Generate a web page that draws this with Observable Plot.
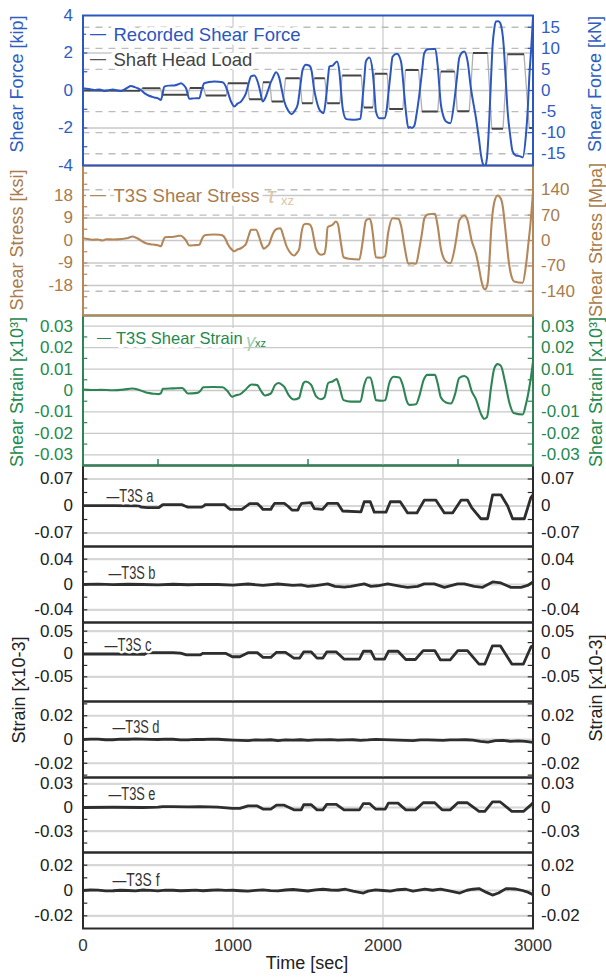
<!DOCTYPE html>
<html>
<head>
<meta charset="utf-8">
<script src="https://cdn.jsdelivr.net/npm/d3@7"></script>
<script src="https://cdn.jsdelivr.net/npm/@observablehq/plot@0.6"></script>
<style>
  html, body { margin: 0; padding: 0; background: #fff; }
  #chart { position: relative; width: 606px; height: 977px; overflow: hidden; font-family: "Liberation Sans", Arial, sans-serif; }
  .yl { position: absolute; transform: translate(-50%, -50%) rotate(-90deg); white-space: nowrap; font-size: 18px; line-height: 1; }
  #xl { position: absolute; left: 307px; top: 963px; transform: translate(-50%, -50%); font-size: 18px; color: #222; white-space: nowrap; }
</style>
</head>
<body>
<div id="chart"></div>
<script>
// ---------------- DATA (time [sec], value) ----------------
const shearForceKip = [[0,0.12],[40,0.08],[76,0.03],[110,0.06],[142,-0.03],[170,0.02],[198,0.06],[230,0.0],[253,-0.02],[290,0.12],[320,0.24],[345,0.18],[364,0.12],[390,0.0],[409,-0.14],[440,-0.28],[476,-0.37],[500,-0.42],[520,-0.5],[530,-0.2],[542,0.21],[575,0.26],[609,0.27],[635,0.33],[653,0.39],[670,0.3],[687,0.12],[709,-0.44],[740,-0.42],[776,-0.41],[790,0.0],[809,0.39],[840,0.45],[876,0.48],[931,0.44],[950,0.25],[964,-0.05],[985,-0.55],[1009,-0.85],[1030,-0.7],[1053,-0.59],[1070,-0.4],[1087,-0.14],[1105,0.4],[1120,0.75],[1142,0.8],[1164,0.48],[1180,0.0],[1198,-0.59],[1215,-0.4],[1231,-0.05],[1250,0.4],[1265,0.66],[1287,0.98],[1309,0.66],[1325,0.05],[1342,-0.59],[1370,-1.1],[1391,-1.26],[1410,-1.1],[1431,-0.76],[1448,0.2],[1464,1.1],[1486,1.37],[1510,1.32],[1525,1.0],[1540,0.1],[1553,-0.41],[1575,-1.0],[1586,-1.12],[1604,-1.21],[1620,-0.41],[1635,0.8],[1642,1.28],[1664,1.33],[1693,1.55],[1709,1.01],[1720,0.0],[1731,-0.94],[1753,-1.51],[1780,-1.55],[1809,-1.56],[1849,-1.51],[1864,-0.41],[1875,0.6],[1886,1.55],[1909,1.76],[1931,1.01],[1942,0.0],[1953,-1.12],[1975,-1.48],[2009,-1.48],[2025,-1.0],[2035,-0.23],[2050,0.9],[2064,1.81],[2093,1.96],[2120,1.55],[2142,-0.23],[2155,-1.3],[2169,-2.0],[2180,-1.95],[2192,-2.0],[2209,-1.88],[2225,-1.2],[2242,-0.23],[2260,1.0],[2275,1.99],[2297,2.2],[2330,2.22],[2349,2.22],[2364,1.37],[2386,-0.76],[2400,-1.3],[2420,-1.65],[2449,-1.74],[2475,-0.59],[2492,0.6],[2508,1.72],[2530,2.05],[2542,2.08],[2564,1.55],[2586,0.12],[2620,-1.48],[2640,-2.6],[2653,-3.43],[2668,-3.95],[2680,-4.05],[2693,-3.6],[2708,-1.65],[2720,0.6],[2731,2.44],[2742,3.3],[2753,3.68],[2770,3.7],[2782,3.59],[2804,2.44],[2818,0.6],[2831,-1.12],[2848,-2.4],[2864,-3.25],[2886,-3.47],[2910,-3.5],[2931,-3.57],[2953,-2.36],[2965,-1.0],[2975,0.66],[2990,2.5],[3000,3.95]];

const shaftHeadLoadKip = [[0,0.0],[380,-0.02],[395,0.12],[515,0.12],[528,-0.23],[700,-0.23],[712,0.13],[805,0.13],[818,-0.27],[955,-0.27],[966,0.39],[1098,0.39],[1108,-0.46],[1190,-0.46],[1200,0.44],[1245,0.44],[1258,-0.59],[1335,-0.59],[1350,0.66],[1445,0.66],[1460,-0.68],[1531,-0.68],[1542,0.66],[1612,0.66],[1628,-0.68],[1712,-0.68],[1728,0.8],[1855,0.8],[1872,-0.91],[1933,-0.91],[1945,0.89],[2028,0.89],[2042,-0.98],[2133,-0.98],[2150,1.1],[2237,1.1],[2260,-1.12],[2365,-1.12],[2385,1.01],[2478,1.01],[2495,-1.1],[2575,-1.1],[2600,2.0],[2697,2.0],[2725,-2.04],[2800,-2.04],[2830,1.94],[2940,1.94],[2975,-2.0],[3000,-2.0]];

const shearStressKsi = [[0,0.9],[30,0.6],[60,0.3],[100,0.4],[130,0.0],[155,0.5],[200,0.4],[260,0.6],[300,1.0],[331,1.6],[350,1.2],[376,0.4],[400,-0.5],[420,-1.1],[450,-1.5],[476,-1.7],[500,-1.9],[520,-2.3],[535,0.0],[547,1.3],[580,1.4],[609,1.5],[640,1.9],[653,1.9],[670,1.2],[687,0.0],[709,-2.0],[740,-1.9],[776,-1.7],[792,0.5],[809,2.0],[840,2.3],[876,2.4],[910,2.3],[931,2.0],[950,0.6],[964,-1.3],[985,-3.2],[1009,-4.3],[1030,-3.6],[1053,-3.1],[1070,-2.4],[1087,-1.3],[1105,2.0],[1120,4.3],[1153,4.3],[1175,1.3],[1190,-1.5],[1205,-3.3],[1225,-2.5],[1242,-1.3],[1258,1.5],[1271,3.3],[1290,4.6],[1316,4.9],[1338,1.3],[1355,-2.0],[1376,-4.4],[1395,-5.7],[1409,-6.0],[1425,-5.0],[1442,-3.3],[1455,2.5],[1471,6.3],[1490,6.7],[1509,6.5],[1525,5.0],[1540,0.5],[1553,-3.3],[1586,-5.7],[1609,-5.3],[1620,-2.0],[1631,5.3],[1664,6.3],[1686,7.6],[1700,6.5],[1709,3.3],[1722,-2.0],[1737,-6.7],[1775,-7.3],[1842,-7.6],[1864,-0.7],[1886,8.0],[1909,8.7],[1922,7.0],[1931,3.3],[1953,-6.7],[1986,-6.9],[2013,-6.3],[2035,3.3],[2064,8.9],[2102,8.7],[2120,6.0],[2146,-3.3],[2169,-9.3],[2190,-9.1],[2220,-9.3],[2242,-3.3],[2260,3.0],[2275,8.7],[2297,10.4],[2346,10.7],[2364,6.0],[2386,-3.3],[2420,-8.4],[2449,-9.1],[2475,-4.0],[2492,2.0],[2508,8.0],[2542,10.0],[2564,8.0],[2591,0.0],[2620,-5.3],[2640,-11.0],[2653,-15.3],[2670,-19.0],[2680,-19.6],[2697,-17.3],[2710,-8.0],[2720,3.3],[2742,15.3],[2764,18.0],[2786,16.7],[2800,13.0],[2813,6.0],[2842,-10.0],[2860,-15.0],[2875,-16.4],[2931,-16.9],[2953,-10.0],[2968,-2.0],[2982,6.0],[3000,19.3]];

const shearStrain = [[0,0.0004],[60,0.0002],[120,0.0003],[200,0.0001],[270,0.0004],[327,0.0009],[365,0.0005],[400,-0.0004],[429,-0.0011],[470,-0.0015],[506,-0.0017],[520,-0.0012],[532,0.0008],[600,0.0010],[661,0.0012],[680,0.0],[699,-0.0014],[763,-0.0011],[785,0.0],[802,0.0015],[870,0.0016],[931,0.0015],[960,0.0],[995,-0.0029],[1020,-0.0022],[1046,-0.0018],[1085,0.0005],[1124,0.0028],[1162,0.0025],[1185,0.0],[1213,-0.0023],[1252,-0.0014],[1280,0.0025],[1303,0.0035],[1320,0.0030],[1342,0.0017],[1370,-0.0020],[1406,-0.0042],[1440,-0.0035],[1458,0.0010],[1470,0.0035],[1486,0.0042],[1520,0.0027],[1553,-0.0026],[1586,-0.0041],[1609,-0.0033],[1635,0.0035],[1664,0.0042],[1691,0.0053],[1709,0.0020],[1737,-0.0045],[1786,-0.0052],[1849,-0.0052],[1875,0.0027],[1897,0.0061],[1915,0.0061],[1937,0.0005],[1953,-0.0045],[1997,-0.0048],[2015,-0.0045],[2042,0.0035],[2071,0.0064],[2109,0.0061],[2131,0.0027],[2160,-0.0052],[2175,-0.0067],[2220,-0.0064],[2242,-0.0026],[2271,0.0050],[2297,0.0073],[2346,0.0073],[2364,0.0035],[2386,-0.0033],[2420,-0.0056],[2453,-0.0061],[2480,-0.0018],[2508,0.0058],[2542,0.0068],[2564,0.0058],[2591,-0.0003],[2620,-0.0041],[2653,-0.0109],[2675,-0.0132],[2693,-0.0124],[2720,0.0012],[2742,0.0103],[2764,0.0123],[2786,0.0115],[2813,0.0042],[2842,-0.0056],[2871,-0.0105],[2931,-0.0112],[2953,-0.0064],[2982,0.0042],[3000,0.0135]];

const gaugeA = [[0,0.001],[200,0.0008],[370,0.0005],[390,-0.003],[429,-0.004],[506,-0.004],[520,0.0],[532,0.0035],[661,0.0035],[680,0.0],[699,-0.003],[789,-0.003],[805,0.0],[815,0.0035],[944,0.0035],[965,-0.004],[982,-0.009],[1059,-0.009],[1090,0.0],[1111,0.006],[1162,0.006],[1180,0.0],[1200,-0.009],[1252,-0.009],[1265,0.0],[1278,0.007],[1342,0.007],[1365,0.0],[1393,-0.0105],[1432,-0.0105],[1445,0.0],[1458,0.007],[1520,0.009],[1542,-0.007],[1597,-0.009],[1631,0.007],[1697,0.007],[1731,-0.013],[1853,-0.015],[1875,0.011],[1915,0.011],[1942,-0.016],[2020,-0.016],[2049,0.011],[2115,0.011],[2164,-0.018],[2226,-0.018],[2275,0.015],[2353,0.015],[2409,-0.018],[2464,-0.018],[2520,0.015],[2564,0.015],[2591,-0.004],[2620,-0.018],[2653,-0.033],[2697,-0.033],[2731,0.029],[2786,0.029],[2831,0.0],[2864,-0.033],[2942,-0.033],[2986,0.022],[3000,0.029]];

const gaugeB = [[0,0.0],[100,0.0005],[200,-0.0003],[300,0.0004],[400,0.0],[500,-0.0005],[600,0.0004],[700,-0.0004],[800,0.0003],[900,0.0],[1000,-0.001],[1100,0.0008],[1200,-0.0015],[1300,0.0008],[1400,-0.0015],[1453,-0.0005],[1500,-0.003],[1542,-0.002],[1631,0.001],[1680,-0.003],[1742,-0.004],[1786,-0.003],[1875,0.001],[1920,-0.003],[1964,-0.002],[2031,0.001],[2120,-0.003],[2164,-0.0045],[2231,-0.003],[2275,0.001],[2342,0.001],[2409,-0.0045],[2497,0.001],[2542,0.001],[2609,-0.003],[2664,-0.0045],[2731,0.004],[2786,0.0025],[2853,-0.0045],[2920,-0.0045],[2964,-0.0015],[3000,0.004]];

const gaugeC = [[0,0.0],[200,0.0],[410,-0.0005],[430,0.003],[600,0.003],[650,0.002],[690,-0.002],[780,-0.002],[800,0.0015],[950,0.0015],[995,-0.006],[1046,-0.006],[1100,0.003],[1162,0.003],[1200,-0.0075],[1252,-0.0075],[1290,0.0037],[1350,0.0037],[1406,-0.009],[1445,-0.009],[1471,0.0045],[1522,0.0045],[1560,-0.009],[1599,-0.009],[1625,0.0045],[1689,0.0045],[1740,-0.011],[1843,-0.011],[1869,0.006],[1920,0.006],[1946,-0.011],[2010,-0.011],[2036,0.006],[2100,0.006],[2152,-0.012],[2216,-0.012],[2268,0.0075],[2345,0.0075],[2383,-0.013],[2448,-0.013],[2499,0.0075],[2563,0.0075],[2640,-0.022],[2679,-0.022],[2730,0.018],[2782,0.018],[2859,-0.022],[2936,-0.022],[2987,0.016],[3000,0.018]];

const gaugeD = [[0,0.0],[50,0.0004],[100,0.0003],[150,-0.0002],[200,-0.0002],[250,0.0003],[300,0.0002],[350,0.0005],[400,0.0004],[450,0.0001],[500,0.0],[550,0.0004],[600,0.0002],[650,-0.0004],[700,-0.0003],[750,0.0001],[800,0.0],[850,0.0003],[900,0.0002],[950,-0.0002],[1000,-0.0005],[1050,-0.0008],[1100,-0.001],[1150,-0.0004],[1200,-0.0006],[1250,-0.0002],[1300,-0.001],[1350,-0.0003],[1400,-0.0005],[1450,-0.0002],[1500,-0.0008],[1550,-0.0003],[1600,-0.0004],[1650,-0.0001],[1700,-0.0006],[1750,-0.0003],[1800,-0.0002],[1850,-0.0007],[1900,-0.0004],[1950,0.0001],[2000,-0.0001],[2050,-0.0003],[2100,-0.0006],[2150,-0.0008],[2200,-0.001],[2250,-0.0004],[2300,-0.0003],[2350,-0.0006],[2400,-0.0008],[2450,-0.0003],[2500,-0.0004],[2550,-0.0002],[2600,-0.0006],[2650,-0.0015],[2700,-0.0022],[2750,-0.001],[2800,-0.0008],[2850,-0.0015],[2900,-0.0012],[2950,-0.0015],[3000,-0.0025]];

const gaugeE = [[0,0.0],[200,0.0003],[400,0.0],[500,0.0005],[530,0.0012],[600,0.0012],[700,0.0008],[780,0.001],[900,0.0006],[995,-0.001],[1046,-0.001],[1100,0.002],[1162,0.002],[1200,-0.002],[1252,-0.002],[1290,0.003],[1342,0.003],[1406,-0.003],[1455,-0.003],[1471,0.0035],[1522,0.0035],[1560,-0.003],[1599,-0.003],[1625,0.004],[1689,0.004],[1740,-0.003],[1843,-0.003],[1869,0.005],[1910,0.005],[1950,-0.002],[2015,-0.002],[2036,0.0055],[2100,0.0055],[2152,-0.003],[2216,-0.003],[2268,0.006],[2345,0.006],[2394,-0.003],[2448,-0.003],[2499,0.006],[2563,0.006],[2640,-0.005],[2679,-0.005],[2730,0.007],[2782,0.007],[2859,-0.005],[2936,-0.005],[2990,0.004],[3000,0.006]];

const gaugeF = [[0,0.0],[50,0.0004],[100,0.0003],[150,-0.0003],[200,-0.0002],[250,0.0002],[300,0.0],[350,-0.0003],[400,0.0004],[450,0.0001],[500,-0.0003],[550,0.0003],[600,0.0002],[650,-0.0002],[700,0.0],[750,0.0003],[800,-0.0002],[850,0.0002],[900,0.0005],[950,0.0001],[1000,0.0002],[1050,-0.0002],[1100,-0.0005],[1150,0.0001],[1200,0.0005],[1250,-0.0001],[1300,-0.0003],[1350,0.0004],[1400,0.0008],[1450,0.0002],[1500,-0.0004],[1550,0.0005],[1600,0.001],[1650,0.0004],[1700,0.0002],[1750,0.001],[1800,-0.0005],[1869,-0.002],[1900,-0.0005],[1950,0.0005],[2000,0.0],[2050,-0.0005],[2100,0.0006],[2152,0.001],[2200,-0.0005],[2280,0.001],[2330,0.0002],[2383,0.001],[2450,-0.0005],[2512,-0.002],[2560,0.0002],[2600,0.001],[2640,0.0015],[2690,-0.0015],[2730,-0.0036],[2770,-0.002],[2820,0.0015],[2880,0.0012],[2930,0.0],[2970,-0.0015],[3000,-0.0033]];

// ---------------- TICKS ----------------
const timeTicks = [0, 1000, 2000, 3000];
const timeGrid = [1000, 2000];
const timeMinor = [500, 1500, 2500];
const forceTicksKip = [4, 2, 0, -2, -4];
const forceMinorKip = [3, 2, 1, -1, -2, -3];
const forceTicksKN = [15, 10, 5, 0, -5, -10, -15];
const stressTicksKsi = [18, 9, 0, -9, -18];
const stressMinorKsi = [27, 22.5, 18, 13.5, 9, 4.5, -4.5, -9, -13.5, -18, -22.5, -27];
const stressTicksMPa = [140, 70, 0, -70, -140];
const strainTicks = [0.03, 0.02, 0.01, 0, -0.01, -0.02, -0.03];
const strainMinor = [0.025, 0.015, 0.005, -0.005, -0.015, -0.025];
const ticksA = [0.07, 0, -0.07], minorA = [0.07, 0.035, -0.035, -0.07];
const ticksB = [0.04, 0, -0.04], minorB = [0.04, 0.02, -0.02, -0.04];
const ticksC = [0.05, 0, -0.05], minorC = [0.05, 0.025, -0.025, -0.05, -0.075];
const ticksD = [0.02, 0, -0.02], minorD = [0.03, 0.02, 0.01, -0.01, -0.02, -0.03];
const ticksE = [0.03, 0, -0.03], minorE = [0.03, 0.015, -0.015, -0.03, -0.045];
const ticksF = [0.02, 0, -0.02], minorF = [0.02, 0.01, -0.01, -0.02];

const KN_PER_KIP = 4.448, MPA_PER_KSI = 6.895;

// ---------------- COLOURS ----------------
const BLUE = "#2c56c0", BLUE_T = "#2f5dc2";
const BROWN = "#b3875a", BROWN_T = "#a97c4c", BROWN_PALE = "#dcc6a8";
const GREEN = "#2f8456", GREEN_T = "#238a4e", GREEN_PALE = "#9fd2b2";
const GRAYLOAD = "#454545", GRAYRAMP = "#b0b0b0", DARK = "#2e2e2e";

const fmtNum = d => (Math.abs(d) < 1e-12 ? "0" : String(+d.toFixed(3)));

const chart = document.getElementById("chart");

// split the shaft head load into hold plateaus (dark) and ramps (light)
function segments(arr) {
  const out = [];
  for (let i = 0; i < arr.length - 1; i++) {
    const [t1, v1] = arr[i], [t2, v2] = arr[i + 1];
    out.push({t1, v1, t2, v2, hold: Math.abs(v2 - v1) < 0.05});
  }
  return out;
}

function panel(c) {
  const pad = 14, padB = c.xAxis ? 44 : 14;
  const rows = arr => arr.map(([t, v]) => ({t, v}));
  const marks = [];
  marks.push(Plot.ruleX(timeGrid, {stroke: "#c9c9c9", strokeWidth: 1.2}));
  if (c.dash) marks.push(Plot.ruleY(c.dash, {stroke: "#bcbcbc", strokeWidth: 1.4, strokeDasharray: "7,6"}));
  marks.push(Plot.ruleY(c.grid, {stroke: c.gridColor || "#c8c8c8", strokeWidth: c.gridWidth || 1.3}));
  if (c.minorL) marks.push(Plot.ruleY(c.minorL, {x1: 0, x2: 32, stroke: c.frame, strokeWidth: 1.2}));
  if (c.minorR) marks.push(Plot.ruleY(c.minorR, {x1: 2968, x2: 3000, stroke: c.frame, strokeWidth: 1.2}));
  if (c.minorX) marks.push(Plot.ruleX(c.minorX, {y1: c.domain[0], y2: c.domain[0] + (c.domain[1] - c.domain[0]) * 0.04, stroke: c.frame, strokeWidth: 1.5}));
  for (const s of c.series) {
    if (s.steps) {
      const seg = segments(s.data);
      marks.push(Plot.link(seg.filter(d => !d.hold), {x1: "t1", y1: "v1", x2: "t2", y2: "v2", stroke: GRAYRAMP, strokeWidth: 1.3, clip: true}));
      marks.push(Plot.link(seg.filter(d => d.hold), {x1: "t1", y1: "v1", x2: "t2", y2: "v2", stroke: s.color, strokeWidth: s.width, clip: true}));
    } else {
      marks.push(Plot.line(rows(s.data), {x: "t", y: "v", stroke: s.color, strokeWidth: s.width, clip: true, curve: s.curve || "linear"}));
    }
  }
  for (const L of c.legend) {
    const o = {text: d => d, frameAnchor: "top-left", dx: L.dx, dy: L.dy, textAnchor: "start",
               fontSize: L.size, fill: L.fill, fontFamily: "'Liberation Sans', Arial, sans-serif"};
    if (L.italic) o.fontStyle = "italic";
    if (L.halo !== false) { o.stroke = "white"; o.strokeWidth = L.haloW || 8; }
    marks.push(Plot.text([L.text], o));
  }
  marks.push(Plot.frame({stroke: c.frame, strokeWidth: c.frameW || 2}));
  marks.push(Plot.axisY({anchor: "left", ticks: c.leftTicks, tickFormat: c.leftFmt || fmtNum, tickSize: 0, tickPadding: 10, color: c.text, fontSize: c.tickSize || 17, label: null}));
  marks.push(Plot.axisY({anchor: "right", ticks: c.rightTicks, tickFormat: c.rightFmt || fmtNum, tickSize: 0, tickPadding: 8, color: c.text, fontSize: c.tickSize || 17, label: null}));
  if (c.xAxis) marks.push(Plot.axisX({anchor: "bottom", ticks: timeTicks, tickFormat: d => String(d), tickSize: 0, tickPadding: 10, color: "#333", fontSize: 17, label: null}));

  const svg = Plot.plot({
    width: 606,
    height: (c.bottom - c.top) + pad + padB,
    marginLeft: 82.5, marginRight: 73.5, marginTop: pad, marginBottom: padB,
    x: c.xAxis ? {domain: [0, 3000]} : {domain: [0, 3000], axis: null},
    y: {domain: c.domain},
    style: {background: "transparent", overflow: "visible", position: "absolute", left: "0px",
            top: (c.top - pad) + "px", fontFamily: "'Liberation Sans', Arial, sans-serif", maxWidth: "none"},
    marks
  });
  // condensed legend lettering for the strain-gauge panels
  if (c.narrow) {
    d3.select(svg).selectAll("text")
      .filter(function () { return this.textContent.startsWith("—T3S"); })
      .attr("textLength", c.narrow).attr("lengthAdjust", "spacingAndGlyphs");
  }
  return svg;
}

const gaugeFrame = "#2a2a2a";
const gaugeGrid = "#d6d6d6";
function gaugePanel(top, bottom, domain, data, ticks, minor, label, dx, dy, xAxis) {
  return {top, bottom, domain, frame: gaugeFrame, frameW: 2, text: "#222",
    grid: ticks, gridColor: gaugeGrid, gridWidth: 2.2,
    minorL: minor, minorR: minor, leftTicks: ticks, rightTicks: ticks,
    series: [{data, color: DARK, width: 2.8}],
    legend: [{text: label, dx, dy, size: 17.5, fill: "#333", haloW: 5}],
    narrow: 47,
    xAxis};
}

const panels = [
  { top: 15, bottom: 165, domain: [-4, 4], frame: BLUE, text: BLUE_T,
    grid: [2, 0, -2], dash: forceTicksKN.filter(d => d !== 0).map(d => d / KN_PER_KIP),
    minorL: forceMinorKip, minorR: forceTicksKN.map(d => d / KN_PER_KIP),
    leftTicks: forceTicksKip, leftFmt: d => String(d),
    rightTicks: forceTicksKN.map(d => d / KN_PER_KIP), rightFmt: d => String(Math.round(d * KN_PER_KIP)),
    series: [{data: shaftHeadLoadKip, color: GRAYLOAD, width: 2, steps: true},
             {data: shearForceKip, color: BLUE, width: 2, curve: "monotone-x"}],
    legend: [{text: "—", dx: 7, dy: 12, size: 16, fill: BLUE},
             {text: "Recorded Shear Force", dx: 30.5, dy: 12, size: 18.5, fill: BLUE},
             {text: "—", dx: 7, dy: 37, size: 16, fill: "#555"},
             {text: "Shaft Head Load", dx: 30.5, dy: 37, size: 18.5, fill: "#444"}] },
  { top: 165, bottom: 315, domain: [-30, 30], frame: BROWN, text: BROWN_T,
    grid: stressTicksKsi, dash: stressTicksMPa.filter(d => d !== 0).map(d => d / MPA_PER_KSI),
    minorL: stressMinorKsi, minorR: stressTicksMPa.map(d => d / MPA_PER_KSI),
    leftTicks: stressTicksKsi, leftFmt: d => String(d),
    rightTicks: stressTicksMPa.map(d => d / MPA_PER_KSI), rightFmt: d => String(Math.round(d * MPA_PER_KSI)),
    series: [{data: shearStressKsi, color: BROWN, width: 2.1, curve: "monotone-x"}],
    legend: [{text: "—", dx: 7, dy: 23, size: 16, fill: BROWN},
             {text: "T3S Shear Stress", dx: 30.5, dy: 23, size: 18.5, fill: BROWN_T},
             {text: "τ", dx: 184, dy: 21, size: 23, fill: BROWN_PALE, italic: true, halo: false},
             {text: "xz", dx: 198, dy: 30, size: 13, fill: BROWN_PALE, halo: false}] },
  { top: 315, bottom: 465, domain: [-0.035, 0.035], frame: GREEN, text: GREEN_T,
    grid: strainTicks, minorL: strainMinor, minorR: strainMinor, minorX: timeMinor,
    leftTicks: strainTicks, rightTicks: strainTicks,
    series: [{data: shearStrain, color: GREEN, width: 2.1, curve: "monotone-x"}],
    legend: [{text: "—", dx: 14, dy: 17, size: 14, fill: GREEN},
             {text: "T3S Shear Strain", dx: 33, dy: 17, size: 16.5, fill: GREEN_T},
             {text: "γ", dx: 163, dy: 18, size: 19, fill: GREEN_PALE, italic: true, halo: false},
             {text: "xz", dx: 172, dy: 24, size: 11, fill: GREEN_T, halo: false}] },
  gaugePanel(465, 546, [-0.105, 0.105], gaugeA, ticksA, minorA, "—T3S a", 23.5, 24, false),
  gaugePanel(546, 622, [-0.06, 0.06], gaugeB, ticksB, minorB, "—T3S b", 25.5, 20, false),
  gaugePanel(622, 701, [-0.104, 0.069], gaugeC, ticksC, minorC, "—T3S c", 21.5, 16, false),
  gaugePanel(701, 777, [-0.032, 0.032], gaugeD, ticksD, minorD, "—T3S d", 29.5, 19, false),
  gaugePanel(777, 852, [-0.057, 0.038], gaugeE, ticksE, minorE, "—T3S e", 25.5, 10, false),
  gaugePanel(852, 928, [-0.03, 0.03], gaugeF, ticksF, minorF, "—T3S f", 29.5, 21, true)
];

// draw bottom-up so that each upper panel's frame sits on top of the one below
for (let i = panels.length - 1; i >= 0; i--) chart.appendChild(panel(panels[i]));

// axis titles
const titles = [
  {t: "Shear Force [kip]", x: 17, y: 84, c: BLUE_T},
  {t: "Shear Force [kN]", x: 595, y: 84, c: BLUE_T},
  {t: "Shear Stress [ksi]", x: 17, y: 240, c: BROWN_T},
  {t: "Shear Stress [Mpa]", x: 596, y: 240, c: BROWN_T},
  {t: "Shear Strain [x10³]", x: 17, y: 392, c: GREEN_T},
  {t: "Shear Strain [x10³]", x: 596, y: 392, c: GREEN_T},
  {t: "Strain [x10-3]", x: 19, y: 690, c: "#222"},
  {t: "Strain [x10-3]", x: 596, y: 688, c: "#222"}
];
for (const T of titles) {
  const d = document.createElement("div");
  d.className = "yl";
  d.textContent = T.t;
  d.style.left = T.x + "px";
  d.style.top = T.y + "px";
  d.style.color = T.c;
  chart.appendChild(d);
}
const xl = document.createElement("div");
xl.id = "xl";
xl.textContent = "Time [sec]";
chart.appendChild(xl);
</script>
</body>
</html>
